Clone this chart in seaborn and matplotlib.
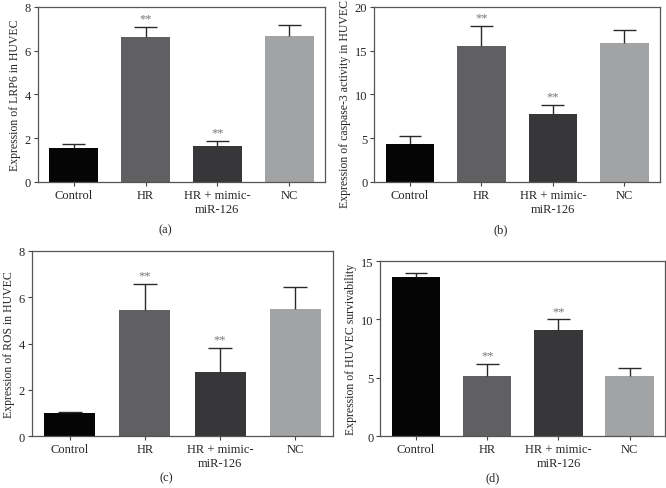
import numpy as np
import pandas as pd
import matplotlib
matplotlib.use("Agg")
import matplotlib.pyplot as plt
import seaborn as sns

# groups shown in every panel
groups = ["Control", "HR", "HR + mimic-\nmiR-126", "NC"]
bar_colors = ["#050505", "#5f6064", "#36373a", "#a0a3a6"]

# (a) LRP6 expression
lrp6_mean = [1.55, 6.6, 1.65, 6.65]
lrp6_err = [0.2, 0.5, 0.2, 0.5]
# (b) caspase-3 activity
casp3_mean = [4.35, 15.5, 7.8, 15.9]
casp3_err = [0.9, 2.3, 1.0, 1.4]
# (c) ROS
ros_mean = [1.0, 5.45, 2.75, 5.5]
ros_err = [0.06, 1.1, 1.05, 0.95]
# (d) survivability
surv_mean = [13.6, 5.15, 9.1, 5.15]
surv_err = [0.35, 1.05, 0.9, 0.7]

# which bars get "**"
stars_a = [False, True, True, False]
stars_b = [False, True, True, False]
stars_c = [False, True, True, False]
stars_d = [False, True, True, False]

sns.set_style("white")
plt.rcParams["font.family"] = ["Liberation Serif", "DejaVu Serif"]

fig = plt.figure(figsize=(6.66, 4.89), dpi=100)

panels = [
    # rect, means, errs, stars, ylim, yticks, ylabel, label y-centre, letter, letter pos
    ([0.057, 0.626, 0.431, 0.358], lrp6_mean, lrp6_err, stars_a, 8, [0, 2, 4, 6, 8],
     "Expression of LRP6 in HUVEC", 0.5, "(a)", (0.248, 0.53)),
    ([0.562, 0.626, 0.429, 0.358], casp3_mean, casp3_err, stars_b, 20, [0, 5, 10, 15, 20],
     "Expression of caspase-3 activity in HUVEC", 0.45, "(b)", (0.752, 0.53)),
    ([0.048, 0.106, 0.452, 0.379], ros_mean, ros_err, stars_c, 8, [0, 2, 4, 6, 8],
     "Expression of ROS in HUVEC", 0.5, "(c)", (0.25, 0.022)),
    ([0.571, 0.106, 0.428, 0.358], surv_mean, surv_err, stars_d, 15, [0, 5, 10, 15],
     "Expression of HUVEC survivability", 0.5, "(d)", (0.74, 0.022)),
]

for rect, means, errs, stars, ytop, yticks, ylabel, ly, letter, lpos in panels:
    ax = fig.add_axes(rect)
    df = pd.DataFrame({"group": groups, "value": means})
    sns.barplot(data=df, x="group", y="value", hue="group", palette=bar_colors,
                legend=False, errorbar=None, width=0.68, linewidth=0, ax=ax)
    xs = np.arange(len(groups))
    tops = np.array(means) + np.array(errs)
    # upper-only error bars with a cap
    ax.vlines(xs, means, tops, color="#2a2a2a", linewidth=1.0, zorder=3)
    ax.hlines(tops, xs - 0.16, xs + 0.16, color="#2a2a2a", linewidth=1.0, zorder=3)
    for x, t, s in zip(xs, tops, stars):
        if s:
            ax.text(x, t + ytop * 0.015, "**", ha="center", va="bottom",
                    fontsize=9, color="#777777")
    ax.set_xlim(-0.5, 3.5)
    ax.set_ylim(0, ytop)
    ax.set_yticks(yticks)
    ax.set_xlabel("")
    ax.set_ylabel(ylabel, fontsize=8.5, labelpad=3)
    ax.yaxis.label.set_y(ly)
    ax.tick_params(axis="both", labelsize=9, length=3, width=0.8, color="#444444",
                   bottom=True, left=True, pad=2)
    for sp in ax.spines.values():
        sp.set_color("#555555")
        sp.set_linewidth(0.9)
    fig.text(lpos[0], lpos[1], letter, ha="center", va="center", fontsize=9)

fig.savefig("out.png", dpi=100)
